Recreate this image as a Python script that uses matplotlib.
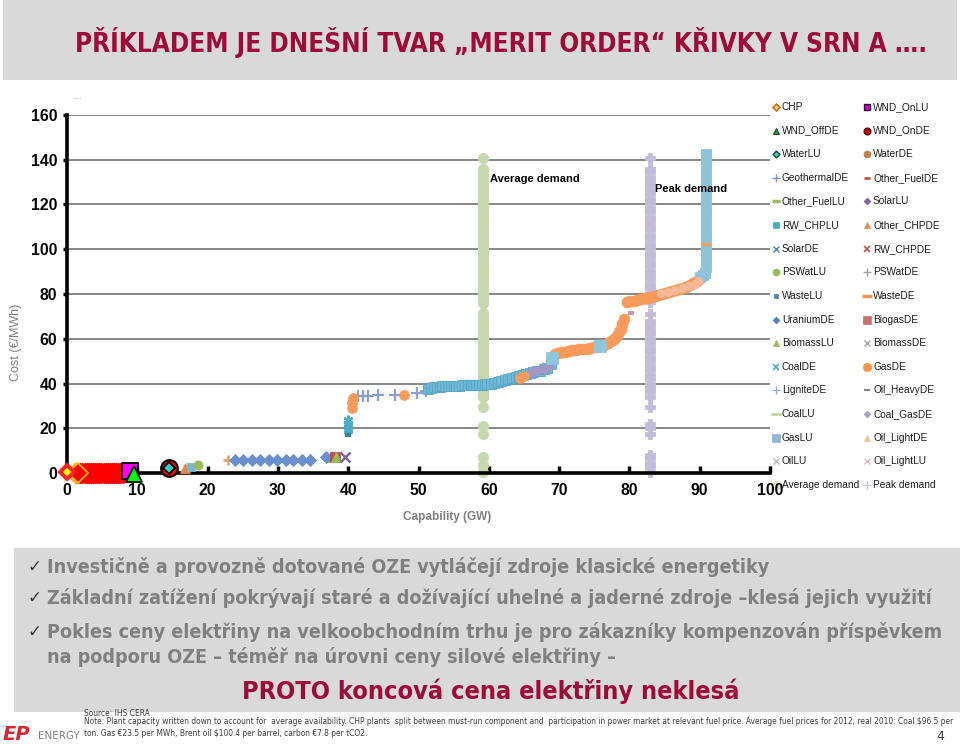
import matplotlib
matplotlib.use("Agg")
import matplotlib.pyplot as plt
from matplotlib import font_manager
from matplotlib.patches import Rectangle

W, H = 960, 744

installed = {f.name for f in font_manager.fontManager.ttflist}
NARROW = "Liberation Sans Narrow" if "Liberation Sans Narrow" in installed else "DejaVu Sans"

# ---- merit order data (capacity GW, cost EUR/MWh) ----
CHP_X, CHP_Y = [0.0], [0.5]
WND_DE_X = [1.3, 1.6, 1.9, 2.2, 2.5, 2.8, 3.1, 3.4, 3.7, 4.0, 4.3, 4.6, 4.9, 5.2,
            5.5, 5.8, 6.1, 6.4, 6.7, 7.0, 7.3, 7.6, 7.9]
WND_DE_Y = [0.2, 0.2, 0.2, 0.2, 0.2, 0.2, 0.2, 0.2, 0.2, 0.2, 0.2, 0.2, 0.2, 0.2,
            0.2, 0.2, 0.2, 0.2, 0.2, 0.2, 0.2, 0.2, 0.2]
WND_ONLU_X, WND_ONLU_Y = [9.0], [0.9]
WND_OFFDE_X, WND_OFFDE_Y = [9.5], [-0.6]
WND_ONDE_X, WND_ONDE_Y = [14.5], [2.1]
WATERLU_X, WATERLU_Y = [14.5], [2.1]
OTHER_CHPDE_X, OTHER_CHPDE_Y = [16.8, 37.6], [2.1, 7.0]
RW_CHPLU_X, RW_CHPLU_Y = [17.7], [2.8]
PSWATLU_X, PSWATLU_Y = [18.7], [3.6]
GEOTHERMAL_X, GEOTHERMAL_Y = [22.9], [5.8]
URANIUM_X = [23.9, 25.1, 26.3, 27.5, 28.7, 29.9, 31.1, 32.2, 33.4, 34.5, 36.9]
URANIUM_Y = [5.8, 5.8, 5.8, 5.8, 5.8, 5.8, 5.8, 5.8, 5.8, 5.8, 7.0]
BIOGAS_X, BIOGAS_Y = [38.1], [7.3]
BIOMASSLU_X, BIOMASSLU_Y = [38.3], [7.0]
BIOMASSDE_X, BIOMASSDE_Y = [39.6], [7.3]
COALDE_X = [40.0, 40.0, 40.0, 40.0]
COALDE_Y = [19.0, 20.5, 22.0, 23.5]
WASTELU_X, WASTELU_Y = [40.0], [17.2]
LIGNITE_X = [41.4, 42.1, 42.8, 44.3, 46.6, 49.8, 51.0]
LIGNITE_Y = [34.4, 34.4, 34.6, 34.8, 34.9, 35.7, 36.5]
GAS_EARLY_X = [40.6, 40.6, 40.7, 47.9, 64.4, 65.0]
GAS_EARLY_Y = [29.0, 31.2, 33.5, 34.9, 42.6, 43.3]
COAL_BAND_X = [51.4, 51.8, 52.2, 52.6, 53.0, 53.4, 53.8, 54.2, 54.6, 55.0, 55.4,
               55.8, 56.2, 56.6, 57.0, 57.4, 57.8, 58.2, 58.6, 59.0, 59.4, 59.8,
               60.3, 60.8, 61.3, 61.8, 62.3, 62.8, 63.3, 63.8, 64.3, 64.8, 65.3,
               65.8, 66.3, 66.8, 67.3, 67.8, 68.3, 68.8]
COAL_BAND_Y = [37.4, 38.0, 38.3, 38.5, 38.6, 38.7, 38.8, 38.9, 39.0, 39.0, 39.1,
               39.1, 39.2, 39.2, 39.3, 39.3, 39.4, 39.4, 39.5, 39.5, 39.6, 39.8,
               40.0, 40.3, 40.7, 41.1, 41.6, 42.0, 42.5, 43.0, 43.4, 43.8, 44.2,
               44.6, 45.0, 45.4, 45.8, 46.3, 47.0, 48.5]
COAL_GAS_X = [66.0, 66.6, 67.2, 67.8, 68.4]
COAL_GAS_Y = [45.2, 45.6, 46.0, 46.6, 47.4]
GASLU_SQ_X = [69.0, 75.8]
GASLU_SQ_Y = [51.5, 56.9]
GASDE_X = [69.4, 69.9, 70.4, 70.9, 71.4, 71.9, 72.4, 72.9, 73.4, 73.9, 74.4, 74.9,
           75.4, 75.9, 76.4, 76.9, 77.4, 77.8, 78.2, 78.5, 78.8, 79.0, 79.2,
           79.6, 80.1, 80.6, 81.1, 81.6, 82.1, 82.6, 83.1, 83.6, 84.1, 84.6, 85.1,
           85.6, 86.1, 86.6, 87.1, 87.6, 88.1, 88.6, 89.1, 89.6, 90.0]
GASDE_Y = [53.3, 53.6, 54.0, 54.3, 54.6, 54.8, 55.0, 55.2, 55.4, 55.6, 55.8, 56.1,
           56.4, 56.8, 57.3, 57.9, 58.8, 59.9, 61.3, 62.8, 64.5, 66.5, 68.8,
           76.6, 76.8, 77.0, 77.3, 77.6, 78.0, 78.4, 78.8, 79.2, 79.6, 80.0, 80.4,
           80.8, 81.3, 81.8, 82.3, 82.8, 83.3, 84.0, 84.8, 85.8, 87.0]
OIL_LIGHT_X = [84.5, 85.5, 86.5, 87.5, 88.5, 89.3, 89.7]
OIL_LIGHT_Y = [80.3, 81.0, 81.7, 82.5, 83.6, 84.5, 85.8]
OIL_HEAVY_X, OIL_HEAVY_Y = [80.2], [71.4]
PEAKER_X = [90.1, 90.5, 90.8, 90.95, 90.95, 90.95, 90.95, 90.95, 90.95, 90.95,
            90.95, 90.95, 90.95, 90.95, 90.95, 90.95, 90.95, 90.95, 90.95, 90.95,
            90.95, 90.95]
PEAKER_Y = [87.8, 88.4, 89.5, 92.0, 95.0, 98.0, 101.0, 104.0, 107.0, 110.0, 113.0,
            116.0, 119.0, 122.0, 125.0, 128.0, 131.0, 134.0, 137.0, 140.0, 142.0, 142.5]
WASTEDE_X, WASTEDE_Y = [90.95], [102.3]

AVG_DEMAND_GW = 59.2
AVG_DEMAND_Y = [0.5, 3.5, 7.0, 17.5, 21.0, 29.5, 34.0, 35.5, 37.0, 38.5, 40.0, 41.5,
                43.0, 44.5, 46.0, 47.5, 49.0, 50.5, 52.0, 53.5, 55.0, 56.5, 58.0,
                59.5, 61.0, 62.5, 64.0, 65.5, 67.0, 68.5, 70.0, 71.5, 76.0, 77.5,
                79.0, 80.5, 82.0, 83.5, 85.0, 86.5, 88.0, 89.5, 91.0, 92.5, 94.0,
                95.5, 97.0, 98.5, 100.0, 101.5, 103.0, 104.5, 106.0, 107.5, 109.0,
                110.5, 112.0, 113.5, 115.0, 116.5, 118.0, 119.5, 121.0, 122.5,
                124.0, 125.5, 127.0, 128.5, 130.0, 131.5, 133.0, 134.5, 136.0, 141.0]
PEAK_DEMAND_GW = 83.0
PEAK_DEMAND_Y = [0.5, 2.5, 4.5, 6.5, 8.0, 17.5, 20.0, 22.0, 29.5, 34.0, 36.0, 38.0,
                 40.0, 42.0, 44.0, 46.0, 48.0, 50.0, 52.0, 54.0, 56.0, 58.0, 60.0,
                 62.0, 64.0, 66.0, 68.0, 71.0, 76.5, 78.5, 80.5, 82.5, 84.5, 86.5,
                 88.5, 90.5, 92.5, 94.5, 96.5, 98.5, 100.5, 102.5, 104.5, 106.5,
                 108.5, 110.5, 112.5, 114.5, 116.5, 118.5, 120.5, 122.5, 124.5,
                 126.5, 128.5, 130.5, 132.5, 134.5, 136.0, 141.0]

X_TICKS = [0, 10, 20, 30, 40, 50, 60, 70, 80, 90, 100]
Y_TICKS = [0, 20, 40, 60, 80, 100, 120, 140, 160]

LEGEND_COL1 = [
    ("CHP", "D", "#fde9a0", "#e36c09", 3.5, 1.2),
    ("WND_OffDE", "^", "#2f8f3f", "#1d4d24", 4.5, 0.8),
    ("WaterLU", "D", "#33cccc", "#1e4d2b", 3.5, 1.0),
    ("GeothermalDE", "+", "#8096b8", "#8096b8", 5.5, 1.0),
    ("Other_FuelLU", "_", "#9bbb59", "#9bbb59", 6.0, 2.5),
    ("RW_CHPLU", "s", "#4bacc6", "#4bacc6", 5.0, 0.5),
    ("SolarDE", "x", "#4f81bd", "#4f81bd", 4.5, 1.0),
    ("PSWatLU", "o", "#9bbb59", "#9bbb59", 5.0, 0.5),
    ("WasteLU", "s", "#4f81bd", "#4f81bd", 2.5, 0.5),
    ("UraniumDE", "D", "#4f81bd", "#4f81bd", 3.5, 0.5),
    ("BiomassLU", "^", "#9bbb59", "#9bbb59", 5.0, 0.5),
    ("CoalDE", "x", "#4bacc6", "#4bacc6", 5.0, 1.2),
    ("LigniteDE", "+", "#a0a8c8", "#a0a8c8", 6.0, 1.0),
    ("CoalLU", "_", "#c3d69b", "#c3d69b", 7.0, 2.0),
    ("GasLU", "s", "#95b3d7", "#95b3d7", 5.5, 0.5),
    ("OilLU", "x", "#bfbfbf", "#bfbfbf", 5.0, 1.0),
    ("Average demand", "o", "#d7e4bd", "#d7e4bd", 6.0, 0.5),
]
LEGEND_COL2 = [
    ("WND_OnLU", "s", "#cc00cc", "#330033", 4.5, 1.0),
    ("WND_OnDE", "o", "#c00000", "#400000", 5.0, 0.8),
    ("WaterDE", "o", "#c0804d", "#c0804d", 5.0, 0.5),
    ("Other_FuelDE", "_", "#c0504d", "#c0504d", 5.0, 2.0),
    ("SolarLU", "D", "#8064a2", "#8064a2", 3.5, 0.5),
    ("Other_CHPDE", "^", "#d99056", "#d99056", 5.0, 0.5),
    ("RW_CHPDE", "x", "#c0504d", "#c0504d", 4.5, 1.2),
    ("PSWatDE", "+", "#a0a0a0", "#a0a0a0", 5.5, 1.0),
    ("WasteDE", "_", "#f79646", "#f79646", 7.0, 2.5),
    ("BiogasDE", "s", "#c87070", "#c87070", 5.5, 0.5),
    ("BiomassDE", "x", "#a6a6a6", "#a6a6a6", 5.0, 1.0),
    ("GasDE", "o", "#f79646", "#f79646", 6.0, 0.5),
    ("Oil_HeavyDE", "_", "#808080", "#808080", 4.0, 1.5),
    ("Coal_GasDE", "D", "#a0a0c8", "#a0a0c8", 3.5, 0.5),
    ("Oil_LightDE", "^", "#fac090", "#fac090", 5.0, 0.5),
    ("Oil_LightLU", "x", "#e6b9b8", "#e6b9b8", 5.0, 1.0),
    ("Peak demand", "+", "#ccc0da", "#ccc0da", 5.5, 1.0),
]

TITLE = "PŘÍKLADEM JE DNEŠNÍ TVAR „MERIT ORDER“ KŘIVKY V SRN A …."
BULLETS = [
    "Investičně a provozně dotované OZE vytláčejí zdroje klasické energetiky",
    "Základní zatížení pokrývají staré a dožívající uhelné a jaderné zdroje \u2013klesá jejich využití",
    "Pokles ceny elektřiny na velkoobchodním trhu je pro zákazníky kompenzován příspěvkem",
    "na podporu OZE \u2013 téměř na úrovni ceny silové elektřiny \u2013",
]
CONCLUSION = "PROTO koncová cena elektřiny neklesá"
NOTES = [
    "Source: IHS CERA",
    "Note: Plant capacity written down to account for  average availability. CHP plants  split between "
    "must-run component and  participation in power market at relevant fuel price. Average fuel prices "
    "for 2012, real 2010: Coal \\$96.5 per",
    "ton. Gas €23.5 per MWh, Brent oil \\$100.4 per barrel, carbon €7.8 per tCO2.",
]

DARK_RED = "#9e0b3a"
GRAY_TXT = "#808080"


def fx(px):
    return px / W


def fy(py):
    return 1 - py / H


fig = plt.figure(figsize=(W / 100, H / 100), dpi=100)
renderer = fig.canvas.get_renderer()


def fit_width(txt, target_px):
    w = txt.get_window_extent(renderer=renderer).width
    txt.set_fontsize(txt.get_fontsize() * target_px / w)
    return txt.get_fontsize()


# background layer in pixel coordinates
bg = fig.add_axes([0, 0, 1, 1])
bg.set_xlim(0, W)
bg.set_ylim(H, 0)
bg.axis("off")
bg.add_patch(Rectangle((3, 0), 954, 80, color="#d9d9d9", lw=0))
bg.add_patch(Rectangle((14, 548), 946, 164, color="#d9d9d9", lw=0))

# hand-placed legend, two columns
for col, entries, mx, tx in [(0, LEGEND_COL1, 776, 782), (1, LEGEND_COL2, 867, 873)]:
    for i, (label, mk, fc, ec, ms, mew) in enumerate(entries):
        yy = 107 + i * 23.62
        bg.plot([mx], [yy], marker=mk, ms=ms, mfc=fc, mec=ec, mew=mew, ls="none")
        bg.text(tx, yy, label, fontsize=7.3, color="#1f1f1f", va="center", ha="left",
                family="Liberation Sans")

# ---- main chart ----
ax = fig.add_axes([fx(67), fy(473), 703 / W, 358 / H])
ax.set_facecolor("none")
ax.set_xlim(0, 100)
ax.set_ylim(0, 160)
ax.set_xticks(X_TICKS)
ax.set_yticks(Y_TICKS)
for lab in ax.get_xticklabels() + ax.get_yticklabels():
    lab.set_fontweight("heavy")
    lab.set_family("Liberation Sans")
ax.tick_params(axis="both", labelsize=11.3, width=2.5, color="black")
ax.tick_params(axis="x", direction="in", length=5, pad=7)
ax.tick_params(axis="y", direction="out", length=3, pad=4)
for s in ["top", "right"]:
    ax.spines[s].set_visible(False)
for s in ["left", "bottom"]:
    ax.spines[s].set_linewidth(2.6)
    ax.spines[s].set_zorder(2)
ax.yaxis.grid(True, color="#7f7f7f", lw=1.3, zorder=0)
ax.set_axisbelow(True)


def mark(x, y, marker, ms, fc, ec=None, mew=0.6, z=3):
    ax.plot(x, y, ls="none", marker=marker, ms=ms, mfc=fc, mec=ec or fc, mew=mew,
            zorder=z, clip_on=False)


# demand columns
mark([AVG_DEMAND_GW] * len(AVG_DEMAND_Y), AVG_DEMAND_Y, "o", 7.4, "#c8d8ae", z=2)
mark([PEAK_DEMAND_GW] * len(PEAK_DEMAND_Y), PEAK_DEMAND_Y, "P", 7.5, "#c3bcd9",
     "#c3bcd9", 0.6, z=2)

# cheap renewables at the left end
mark(WND_DE_X, WND_DE_Y, "D", 9.7, "#ff0000", "#ff0000", 1.0)
mark(WND_DE_X[:2], WND_DE_Y[:2], "D", 9.7, "#ff0000", "#ffc000", 1.2)
mark(CHP_X, CHP_Y, "D", 7.0, "#ffff00", "#ff2020", 2.8, z=4)
mark(WND_ONLU_X, WND_ONLU_Y, "s", 11, "#ff00ff", "black", 1.3, z=4)
mark(WND_OFFDE_X, WND_OFFDE_Y, "^", 11.5, "#00ff00", "black", 1.3, z=5)
mark(WND_ONDE_X, WND_ONDE_Y, "o", 12, "#ff0000", "black", 1.5, z=4)
mark(WATERLU_X, WATERLU_Y, "D", 6.5, "#33cccc", "black", 1.3, z=5)
mark(OTHER_CHPDE_X, OTHER_CHPDE_Y, "^", 7, "#e08a4a")
mark(RW_CHPLU_X, RW_CHPLU_Y, "s", 6, "#7bb6d0")
mark(PSWATLU_X, PSWATLU_Y, "o", 6.5, "#9bbb59")
mark(GEOTHERMAL_X, GEOTHERMAL_Y, "+", 7, "#e8a060", mew=1.8)
mark(URANIUM_X, URANIUM_Y, "D", 6, "#6a8fcf")
mark(BIOGAS_X, BIOGAS_Y, "s", 6.5, "#c0504d")
mark(BIOMASSLU_X, BIOMASSLU_Y, "^", 6.5, "#9bbb59")
mark(BIOMASSDE_X, BIOMASSDE_Y, "x", 7, "#8064a2", mew=1.8)
mark(COALDE_X, COALDE_Y, (6, 2, 0), 7, "#4bacc6", mew=1.6)
mark(WASTELU_X, WASTELU_Y, "_", 5, "#31859c", mew=3)
mark(LIGNITE_X, LIGNITE_Y, "+", 8, "#8e9fd3", mew=1.6)
mark(GAS_EARLY_X, GAS_EARLY_Y, "o", 7, "#f79a5b", z=4)
mark(COAL_BAND_X, COAL_BAND_Y, "s", 7.8, "#6db6d4", "#5aa7c7", 0.6)
mark(COAL_GAS_X, COAL_GAS_Y, "D", 5.5, "#a496c4")
mark(GASLU_SQ_X, GASLU_SQ_Y, "s", 8.5, "#8fc6dc", z=4)
mark(GASDE_X, GASDE_Y, "o", 7.8, "#f79a5b")
mark(OIL_LIGHT_X, OIL_LIGHT_Y, "o", 6, "#f6b896", z=4)
mark(OIL_HEAVY_X, OIL_HEAVY_Y, "_", 5, "#c99aa8", mew=3)
mark(PEAKER_X, PEAKER_Y, "s", 7.5, "#8fc3da")
mark(WASTEDE_X, WASTEDE_Y, "_", 7, "#f0a060", mew=2.5, z=4)

ax.text(60.1, 131.3, "Average demand", fontsize=8, fontweight="bold", va="center",
        family="Liberation Sans", zorder=6)
ax.text(83.6, 126.9, "Peak demand", fontsize=8, fontweight="bold", va="center",
        family="Liberation Sans", zorder=6)

fig.text(fx(16), fy(342), "Cost (€/MWh)", rotation=90, ha="center", va="center",
         fontsize=9, color=GRAY_TXT, family="Liberation Sans")
fig.text(fx(447), fy(517), "Capability (GW)", ha="center", va="center", fontsize=8.5,
         fontweight="bold", color=GRAY_TXT, family="Liberation Sans")
fig.text(fx(73), fy(97), "....", fontsize=5, color="#a0a0a0", va="center")

# ---- slide texts ----
stretch = "condensed" if NARROW == "DejaVu Sans" else "normal"
t = fig.text(fx(75), fy(42), TITLE, color=DARK_RED, fontweight="bold", fontsize=22,
             family=NARROW, fontstretch=stretch, va="center", ha="left")
fit_width(t, 850)

bullet_y = [567, 598, 632, 657]
lines = []
for i, (txt, yy) in enumerate(zip(BULLETS, bullet_y)):
    lines.append(fig.text(fx(47), fy(yy), txt, color=GRAY_TXT, fontweight="bold",
                          fontsize=15, family=NARROW, fontstretch=stretch,
                          va="center", ha="left"))
    if i < 3:
        fig.text(fx(28), fy(yy), "\u2713", color="#3a3a3a", fontsize=12,
                 family="DejaVu Sans", va="center", ha="left")
size = fit_width(lines[2], 897)
for ln in lines:
    ln.set_fontsize(size)

c = fig.text(fx(491), fy(691), CONCLUSION, color=DARK_RED, fontweight="bold",
             fontsize=19, family=NARROW, fontstretch=stretch, va="center", ha="center")
fit_width(c, 497)

note_y = [713, 722, 733]
notes = [fig.text(fx(84), fy(yy), txt, color="#404040", fontsize=6, family=NARROW,
                  fontstretch=stretch, va="center", ha="left")
         for txt, yy in zip(NOTES, note_y)]
size = fit_width(notes[1], 868)
for n in notes:
    n.set_fontsize(size)

fig.text(fx(940), fy(736), "4", fontsize=9, color="#404040", va="center", ha="center")
fig.text(fx(3), fy(735), "EP", fontsize=14, fontweight="bold", color="#d7282f",
         family="DejaVu Sans", va="center", ha="left", fontstyle="italic")
fig.text(fx(38), fy(736), "ENERGY", fontsize=7.5, color=GRAY_TXT, family=NARROW,
         va="center", ha="left")

fig.savefig("out.png", dpi=100)
